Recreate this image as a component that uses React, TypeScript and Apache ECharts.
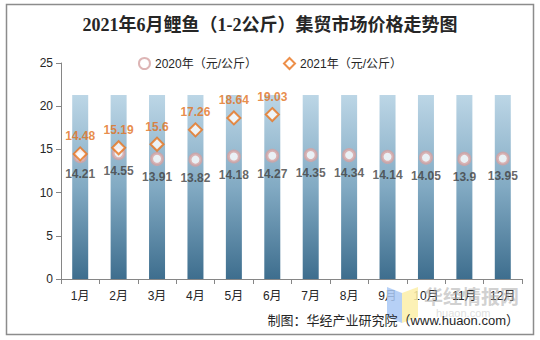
import React, { useEffect, useRef } from "react";
import * as echarts from "echarts";

const categories = ["1月", "2月", "3月", "4月", "5月", "6月", "7月", "8月", "9月", "10月", "11月", "12月"];
const values2020 = [14.21, 14.55, 13.91, 13.82, 14.18, 14.27, 14.35, 14.34, 14.14, 14.05, 13.9, 13.95];
const values2021 = [14.48, 15.19, 15.6, 17.26, 18.64, 19.03];
const backgroundBars = [21.3, 21.3, 21.3, 21.3, 21.3, 21.3, 21.3, 21.3, 21.3, 21.3, 21.3, 21.3];
const yTicks = { min: 0, max: 25, interval: 5 };
const titleText = "2021年6月鲤鱼（1-2公斤）集贸市场价格走势图";
const legend2020 = "2020年（元/公斤）";
const legend2021 = "2021年（元/公斤）";
const footerText = "制图：华经产业研究院（www.huaon.com）";

const SANS = "'Liberation Sans', Arial, 'Noto Sans CJK SC', sans-serif";

export default function App() {
  const ref = useRef<HTMLDivElement>(null);
  useEffect(() => {
    if (!ref.current) return;
    const chart = echarts.init(ref.current, null, { renderer: "svg" });
    chart.setOption({
      animation: false,
      backgroundColor: "#ffffff",
      title: {
        text: titleText,
        left: "center",
        top: 11,
        textStyle: {
          fontFamily: "'Liberation Serif', 'Noto Sans CJK SC', serif",
          fontWeight: "bold",
          fontSize: 18,
          color: "#262626",
        },
      },
      legend: {
        data: [legend2020, legend2021],
        top: 52,
        left: "center",
        itemGap: 26,
        itemWidth: 11,
        itemHeight: 11,
        textStyle: { fontFamily: SANS, fontSize: 12, color: "#262626" },
      },
      grid: { left: 61, right: 18, top: 63, bottom: 61 },
      xAxis: {
        type: "category",
        data: categories,
        axisLine: { lineStyle: { color: "#868686", width: 1 } },
        axisTick: { show: true, length: 5, alignWithLabel: false, lineStyle: { color: "#868686" } },
        axisLabel: { fontFamily: SANS, fontSize: 12, color: "#262626", margin: 11 },
      },
      yAxis: {
        type: "value",
        min: yTicks.min,
        max: yTicks.max,
        interval: yTicks.interval,
        axisLine: { show: true, lineStyle: { color: "#868686", width: 1 } },
        axisTick: { show: true, length: 5, lineStyle: { color: "#868686" } },
        splitLine: { show: false },
        axisLabel: { fontFamily: SANS, fontSize: 12, color: "#262626", margin: 8 },
      },
      series: [
        {
          type: "bar",
          data: backgroundBars,
          barWidth: 16,
          silent: true,
          z: 1,
          itemStyle: {
            color: new echarts.graphic.LinearGradient(0, 0, 0, 1, [
              { offset: 0, color: "#bcd6e6" },
              { offset: 0.5, color: "#82aac3" },
              { offset: 1, color: "#3e6e8e" },
            ]),
          },
        },
        {
          name: legend2020,
          type: "scatter",
          data: values2020,
          symbol: "circle",
          symbolSize: 11,
          z: 3,
          itemStyle: { color: "#ffffff", borderColor: "#d5a3a3", borderWidth: 3 },
          label: {
            show: true,
            position: "bottom",
            distance: 5,
            fontFamily: SANS,
            fontSize: 12,
            fontWeight: "bold",
            color: "#404040",
          },
        },
        {
          name: legend2021,
          type: "scatter",
          data: values2021,
          symbol: "diamond",
          symbolSize: 13,
          z: 4,
          itemStyle: { color: "#ffffff", borderColor: "#e8731c", borderWidth: 2 },
          label: {
            show: true,
            position: "top",
            distance: 4,
            fontFamily: SANS,
            fontSize: 12,
            fontWeight: "bold",
            color: "#e2701a",
          },
        },
      ],
      graphic: [
        {
          type: "rect",
          shape: { x: 6.5, y: 4.5, width: 527, height: 330 },
          style: { fill: "none", stroke: "#8c8c8c", lineWidth: 1.5 },
          z: 0,
        },
        {
          type: "polygon",
          shape: { points: [[387, 287], [402, 293], [402, 323], [387, 317]] },
          style: { fill: "#a9c8f5", opacity: 0.85 },
          z: 10,
        },
        {
          type: "polygon",
          shape: { points: [[402, 293], [418, 287], [418, 317], [402, 323]] },
          style: { fill: "#fbeea8", opacity: 0.85 },
          z: 10,
        },
        {
          type: "text",
          x: 424,
          y: 286,
          style: {
            text: "华经情报网",
            fontFamily: "'Noto Sans CJK SC', sans-serif",
            fontWeight: "bold",
            fontSize: 19,
            fill: "rgba(170,170,170,0.55)",
          },
          z: 10,
        },
        {
          type: "text",
          x: 436,
          y: 307,
          style: {
            text: "huaon.com",
            fontFamily: SANS,
            fontSize: 11,
            fill: "rgba(190,190,190,0.5)",
          },
          z: 10,
        },
        {
          type: "text",
          right: 21,
          top: 314,
          style: {
            text: footerText,
            fontFamily: "'Liberation Sans', 'Noto Sans CJK SC', sans-serif",
            fontSize: 13,
            fill: "#262626",
          },
          z: 11,
        },
      ],
    });
    return () => chart.dispose();
  }, []);
  return (
    <div
      ref={ref}
      style={{ position: "fixed", left: 0, top: 0, width: 540, height: 340 }}
    />
  );
}
